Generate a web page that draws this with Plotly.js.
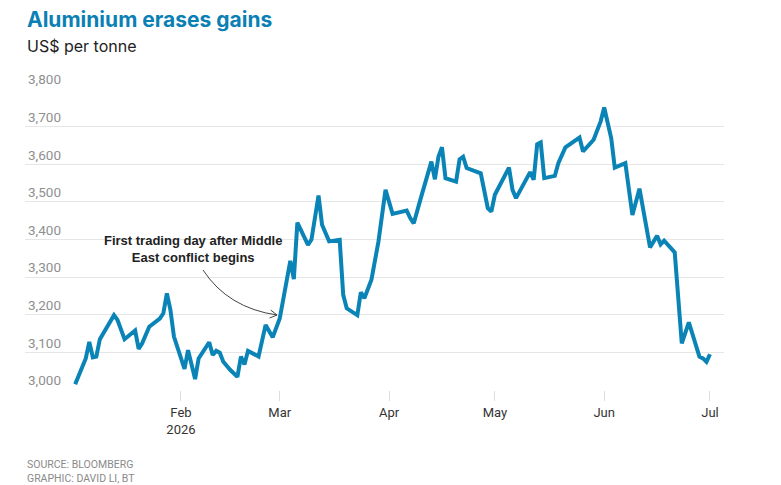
<!DOCTYPE html>
<html>
<head>
<meta charset="utf-8">
<script src="https://cdn.plot.ly/plotly-3.0.1.min.js"></script>
<style>html,body{margin:0;padding:0;background:#fff;}#chart{width:781px;height:485px;}</style>
</head>
<body>
<div id="chart"></div>
<script>
// Aluminium price, US$ per tonne
const dates = [
  '2026-01-02','2026-01-05','2026-01-06','2026-01-07','2026-01-08','2026-01-09','2026-01-13','2026-01-14','2026-01-16','2026-01-19',
  '2026-01-20','2026-01-21','2026-01-23','2026-01-26','2026-01-27','2026-01-28','2026-01-29','2026-01-30','2026-02-01','2026-02-02',
  '2026-02-03','2026-02-05','2026-02-06','2026-02-09','2026-02-10','2026-02-11','2026-02-12','2026-02-13','2026-02-15','2026-02-17',
  '2026-02-18','2026-02-19','2026-02-20','2026-02-23','2026-02-25','2026-02-27','2026-03-01','2026-03-02','2026-03-04','2026-03-05',
  '2026-03-06','2026-03-09','2026-03-10','2026-03-12','2026-03-13','2026-03-15','2026-03-18','2026-03-19','2026-03-20','2026-03-23',
  '2026-03-24','2026-03-25','2026-03-27','2026-03-29','2026-03-31','2026-04-02','2026-04-06','2026-04-07','2026-04-08','2026-04-10',
  '2026-04-13','2026-04-14','2026-04-15','2026-04-16','2026-04-17','2026-04-20','2026-04-21','2026-04-22','2026-04-23','2026-04-27',
  '2026-04-29','2026-04-30','2026-05-01','2026-05-05','2026-05-06','2026-05-07','2026-05-11','2026-05-12','2026-05-13','2026-05-14',
  '2026-05-15','2026-05-18','2026-05-19','2026-05-21','2026-05-25','2026-05-26','2026-05-28','2026-05-29','2026-05-31','2026-06-01',
  '2026-06-03','2026-06-04','2026-06-07','2026-06-09','2026-06-11','2026-06-14','2026-06-16','2026-06-17','2026-06-18','2026-06-21',
  '2026-06-23','2026-06-25','2026-06-28','2026-06-29','2026-06-30','2026-07-01'
];
const prices = [
  3015,3084,3128,3087,3089,3135,3199,3186,3135,3158,
  3109,3124,3168,3190,3204,3257,3213,3142,3085,3056,
  3106,3029,3084,3127,3093,3104,3099,3075,3053,3035,
  3089,3068,3104,3089,3173,3140,3190,3240,3343,3295,
  3445,3386,3400,3517,3439,3395,3399,3253,3217,3199,
  3260,3244,3293,3395,3532,3468,3477,3457,3443,3510,
  3607,3560,3620,3645,3563,3554,3613,3620,3590,3576,
  3483,3474,3519,3591,3532,3510,3579,3559,3653,3658,
  3563,3569,3603,3645,3671,3634,3656,3665,3714,3751,
  3669,3591,3603,3465,3535,3379,3410,3387,3397,3366,
  3124,3180,3089,3084,3075,3095
];
const yTicks = [3000,3100,3200,3300,3400,3500,3600,3700,3800];
const xTickVals = ['2026-02-01','2026-03-01','2026-04-01','2026-05-01','2026-06-01','2026-07-01'];
const xTickText = ['Feb<br>2026','Mar','Apr','May','Jun','Jul'];
const titleText = 'Aluminium erases gains';
const subtitleText = 'US$ per tonne';
const noteText = 'First trading day after Middle<br>East conflict begins';
const sourceLine = 'SOURCE: BLOOMBERG';
const graphicLine = 'GRAPHIC: DAVID LI, BT';

// layout geometry (pixels)
const W = 781, H = 485, L = 25, R = 724, T = 89, B = 390;
const px = x => (x - L) / (R - L);
const py = y => (B - y) / (B - T);

const trace = {
  x: dates, y: prices, type: 'scatter', mode: 'lines',
  line: {color: '#0a84b6', width: 4, shape: 'linear'},
  hoverinfo: 'skip'
};

const layout = {
  width: W, height: H,
  margin: {l: L, r: W - R, t: T, b: H - B, pad: 0},
  paper_bgcolor: '#fff', plot_bgcolor: '#fff',
  showlegend: false,
  font: {family: 'Inter, "Open Sans", sans-serif', color: '#333'},
  xaxis: {
    type: 'date',
    range: ['2025-12-18 18:30', '2026-07-04 23:20'],
    tickmode: 'array', tickvals: xTickVals, ticktext: xTickText,
    ticks: 'outside', ticklen: 10, tickcolor: '#dcdcdc', tickwidth: 1,
    showgrid: false, zeroline: false, showline: false,
    tickfont: {family: 'Roboto, "Open Sans", sans-serif', size: 13, color: '#333'},
    fixedrange: true
  },
  yaxis: {
    range: [3000, 3800],
    tickmode: 'array', tickvals: yTicks,
    ticktext: yTicks.map(v => v.toLocaleString('en-US')),
    ticks: '', showgrid: true, gridcolor: '#e6e6e6', gridwidth: 1,
    zeroline: false, showline: false,
    ticklabelposition: 'inside top', ticklabeloverflow: 'allow',
    tickfont: {family: 'Roboto, "Open Sans", sans-serif', size: 13.5, color: '#8f8f8f'},
    fixedrange: true
  },
  annotations: [
    {text: '<b>' + titleText + '</b>', xref: 'paper', yref: 'paper', x: px(25), y: py(19),
     xanchor: 'left', yanchor: 'middle', showarrow: false,
     font: {family: 'Inter, "Open Sans", sans-serif', size: 21, color: '#0b80b4'}},
    {text: subtitleText, xref: 'paper', yref: 'paper', x: px(25), y: py(46),
     xanchor: 'left', yanchor: 'middle', showarrow: false,
     font: {family: 'Inter, "Open Sans", sans-serif', size: 16, color: '#222'}},
    {text: noteText, xref: 'paper', yref: 'paper', x: px(193), y: py(249),
     xanchor: 'center', yanchor: 'middle', showarrow: false, align: 'center',
     font: {family: '"Liberation Sans Narrow", "Arial Narrow", "Liberation Sans", sans-serif', size: 13, color: '#222', weight: 'bold'}},
    {text: sourceLine, xref: 'paper', yref: 'paper', x: px(25), y: py(464),
     xanchor: 'left', yanchor: 'middle', showarrow: false, align: 'left',
     font: {family: 'Roboto, sans-serif', size: 10.5, color: '#8a8a8a'}},
    {text: graphicLine, xref: 'paper', yref: 'paper', x: px(25), y: py(478),
     xanchor: 'left', yanchor: 'middle', showarrow: false, align: 'left',
     font: {family: 'Roboto, sans-serif', size: 10.5, color: '#8a8a8a'}}
  ],
  shapes: [
    {type: 'path', xref: 'paper', yref: 'paper',
     path: `M ${px(203)},${py(270)} Q ${px(228)},${py(308)} ${px(277)},${py(315)}`,
     line: {color: '#444', width: 1}},
    {type: 'path', xref: 'paper', yref: 'paper',
     path: `M ${px(269.6)},${py(318)} L ${px(277)},${py(315)} L ${px(270.7)},${py(310.1)}`,
     line: {color: '#444', width: 1}}
  ]
};

Plotly.newPlot('chart', [trace], layout, {staticPlot: true, displayModeBar: false});
</script>
</body>
</html>
